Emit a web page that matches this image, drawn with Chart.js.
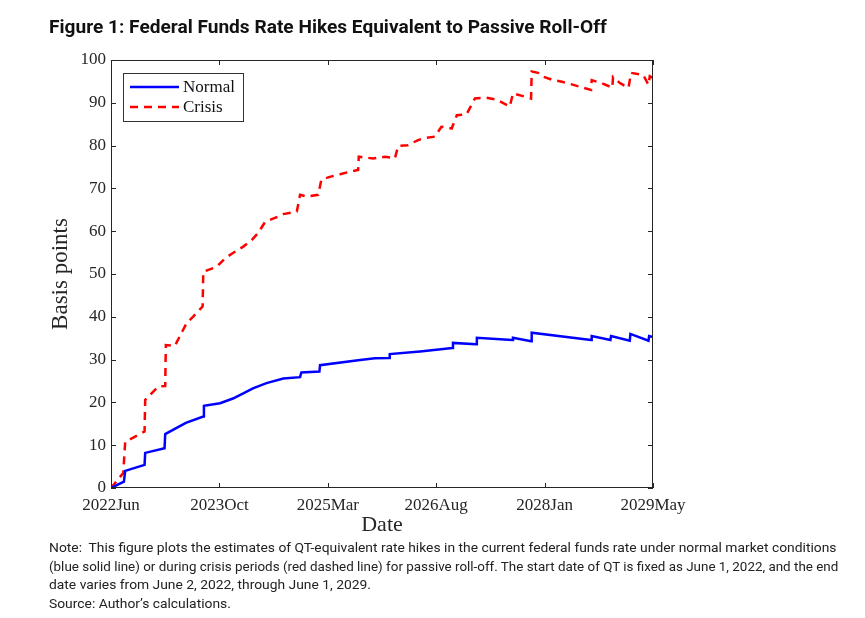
<!DOCTYPE html>
<html>
<head>
<meta charset="utf-8">
<title>Figure 1</title>
<script src="https://cdn.jsdelivr.net/npm/chart.js@4.4.1/dist/chart.umd.min.js"></script>
<style>
  html, body { margin: 0; padding: 0; background: #fff; }
  #page { position: relative; width: 865px; height: 618px; overflow: hidden; }
  #chartBox { position: absolute; left: 0; top: 0; width: 865px; height: 545px; }
  #title {
    position: absolute; left: 49px; top: 16px;
    font: 700 18px Roboto, "Noto Sans", sans-serif; color: #111;
    white-space: nowrap; transform-origin: 0 0;
  }
  #note {
    position: absolute; left: 49px; top: 539px;
    font: 13px Roboto, "Noto Sans", sans-serif; line-height: 18.7px; color: #222;
    white-space: nowrap;
  }
  #note span { display: inline-block; transform-origin: 0 0; }
</style>
</head>
<body>
<div id="page">
  <div id="chartBox"><canvas id="qtChart"></canvas></div>
  <div id="title">Figure 1: Federal Funds Rate Hikes Equivalent to Passive Roll-Off</div>
  <div id="note">
    <div><span data-w="787">Note:&nbsp; This figure plots the estimates of QT-equivalent rate hikes in the current federal funds rate under normal market conditions</span></div>
    <div><span data-w="789">(blue solid line) or during crisis periods (red dashed line) for passive roll-off. The start date of QT is fixed as June 1, 2022, and the end</span></div>
    <div><span>date varies from June 2, 2022, through June 1, 2029.</span></div>
    <div><span>Source: Author’s calculations.</span></div>
  </div>
</div>
<script>
// x values are months since June 2022
const tickMonths = [0, 16.8, 33.6, 50.4, 67.2, 84];
const tickLabels = ["2022Jun", "2023Oct", "2025Mar", "2026Aug", "2028Jan", "2029May"];

const normalX = [0, 2.0, 2.2, 5.2, 5.3, 8.3, 8.4, 11.6, 14.3, 14.4,
  16.9, 18.9, 20.5, 22.0, 24.1, 26.7, 29.3, 29.5, 32.3, 32.4,
  38.6, 40.9, 43.1, 43.2, 47.9, 52.9, 53.0, 56.6, 56.7, 62.2,
  62.3, 65.1, 65.2, 74.4, 74.5, 77.4, 77.5, 80.4, 80.5, 83.3,
  83.4, 84];
const normalY = [0, 1.5, 4.0, 5.4, 8.2, 9.3, 12.6, 15.2, 16.7, 19.2,
  19.8, 20.9, 22.1, 23.3, 24.5, 25.6, 25.9, 27.0, 27.2, 28.7,
  29.9, 30.3, 30.4, 31.3, 31.9, 32.7, 33.9, 33.6, 35.1, 34.6,
  35.1, 34.3, 36.3, 34.6, 35.5, 34.6, 35.5, 34.4, 36.0, 34.4,
  35.5, 35.3];

const crisisX = [0, 1.9, 2.2, 5.2, 5.3, 7.3, 8.4, 8.5, 9.9, 11.7,
  12.7, 14.2, 14.3, 16.4, 17.7, 18.9, 20.5, 21.8, 22.8, 23.9,
  25.4, 26.7, 28.8, 29.3, 30.3, 32.1, 32.6, 33.9, 35.5, 37.0,
  38.3, 38.4, 40.6, 42.5, 44.0, 44.5, 46.0, 47.6, 48.4, 50.2,
  51.2, 52.8, 53.6, 55.1, 56.4, 58.2, 59.8, 61.8, 62.3, 64.2,
  65.1, 65.2, 66.2, 67.0, 68.3, 69.9, 71.4, 73.0, 74.4, 74.5,
  76.0, 77.3, 77.7, 77.8, 78.9, 80.2, 80.6, 82.5, 83.3, 83.5,
  84];
const crisisY = [0, 3.5, 10.8, 13.2, 20.6, 23.7, 23.8, 33.4, 33.2, 38.5,
  40.0, 42.4, 50.5, 51.7, 53.7, 54.9, 56.4, 57.9, 59.6, 62.2,
  63.1, 64.0, 64.6, 68.5, 68.1, 68.5, 72.0, 72.7, 73.3, 73.9,
  74.3, 77.4, 77.0, 77.4, 77.0, 79.9, 80.1, 81.3, 81.7, 82.1,
  84.4, 84.0, 87.1, 87.3, 91.0, 91.2, 90.7, 89.1, 92.2, 91.4,
  91.0, 97.3, 97.0, 96.1, 95.4, 94.9, 94.3, 93.6, 93.0, 95.3,
  94.6, 93.8, 93.5, 96.0, 94.6, 93.5, 97.0, 96.5, 94.2, 96.2,
  95.8];

const serif = "'Liberation Serif', 'Times New Roman', serif";
const axisColor = "#262626";

const toPoints = (xs, ys) => xs.map((x, i) => ({ x, y: ys[i] }));

// MATLAB-like box, inward ticks and boxed legend inside the axes
const boxPlugin = {
  id: "matlabBox",
  afterDatasetsDraw(chart) {
    const { ctx, chartArea: a, scales } = chart;
    ctx.save();
    ctx.strokeStyle = axisColor;
    ctx.lineWidth = 1;
    ctx.strokeRect(a.left + 0.5, a.top + 0.5, a.right - a.left - 1, a.bottom - a.top - 1);

    ctx.beginPath();
    scales.x.ticks.forEach((t) => {
      const px = Math.round(scales.x.getPixelForValue(t.value)) + 0.5;
      ctx.moveTo(px, a.bottom); ctx.lineTo(px, a.bottom - 5);
      ctx.moveTo(px, a.top); ctx.lineTo(px, a.top + 5);
    });
    scales.y.ticks.forEach((t) => {
      const py = Math.round(scales.y.getPixelForValue(t.value)) + 0.5;
      ctx.moveTo(a.left, py); ctx.lineTo(a.left + 5, py);
      ctx.moveTo(a.right, py); ctx.lineTo(a.right - 5, py);
    });
    ctx.stroke();

    // legend
    const lx = a.left + 12, ly = a.top + 13, lw = 120, lh = 48;
    ctx.fillStyle = "#fff";
    ctx.fillRect(lx, ly, lw, lh);
    ctx.strokeStyle = "#333";
    ctx.strokeRect(lx + 0.5, ly + 0.5, lw, lh);
    ctx.font = "17px " + serif;
    ctx.textBaseline = "middle";
    ctx.textAlign = "left";
    chart.data.datasets.forEach((ds, i) => {
      const y = ly + 14 + i * 20;
      ctx.beginPath();
      ctx.strokeStyle = ds.borderColor;
      ctx.lineWidth = ds.borderWidth;
      ctx.setLineDash(ds.borderDash || []);
      ctx.moveTo(lx + 7, y);
      ctx.lineTo(lx + 56, y);
      ctx.stroke();
      ctx.setLineDash([]);
      ctx.fillStyle = "#111";
      ctx.fillText(ds.label, lx + 60, y + 1);
    });
    ctx.restore();
  }
};

new Chart(document.getElementById("qtChart"), {
  type: "line",
  data: {
    datasets: [{
      label: "Normal",
      data: toPoints(normalX, normalY),
      borderColor: "#0000ff",
      borderWidth: 2.5,
      pointRadius: 0,
      tension: 0,
      fill: false
    }, {
      label: "Crisis",
      data: toPoints(crisisX, crisisY),
      borderColor: "#ff0000",
      borderWidth: 2.5,
      borderDash: [8, 6],
      pointRadius: 0,
      tension: 0,
      fill: false
    }]
  },
  options: {
    responsive: true,
    maintainAspectRatio: false,
    animation: false,
    layout: {
      padding: { left: 40, top: 60, right: 212, bottom: 2 }
    },
    plugins: {
      legend: { display: false },
      tooltip: { enabled: false }
    },
    scales: {
      x: {
        type: "linear",
        min: 0,
        max: 84,
        afterBuildTicks(scale) {
          scale.ticks = tickMonths.map((value) => ({ value }));
        },
        afterFit(scale) {
          scale.height = 55;
        },
        grid: { display: false, drawTicks: false },
        border: { display: false },
        ticks: {
          autoSkip: false,
          maxRotation: 0,
          padding: 7,
          color: axisColor,
          font: { family: serif, size: 17 },
          callback: (value, index) => tickLabels[index]
        },
        title: {
          display: true,
          text: "Date",
          color: axisColor,
          font: { family: serif, size: 22 },
          padding: { top: 0, bottom: 5 }
        }
      },
      y: {
        min: 0,
        max: 100,
        afterFit(scale) {
          scale.width = 71;
        },
        grid: { display: false, drawTicks: false },
        border: { display: false },
        ticks: {
          stepSize: 10,
          padding: 5,
          color: axisColor,
          font: { family: serif, size: 17 }
        },
        title: {
          display: true,
          text: "Basis points",
          color: axisColor,
          font: { family: serif, size: 23 },
          padding: { top: 7, bottom: 0 }
        }
      }
    }
  },
  plugins: [boxPlugin]
});

// squeeze the heading and the note lines to the widths of the original figure
const fitText = () => {
  const title = document.getElementById("title");
  title.style.transform = "scaleX(" + (558 / title.offsetWidth) + ")";
  const spans = Array.from(document.querySelectorAll("#note span"));
  const base = 787 / spans[0].offsetWidth;
  spans.forEach((s) => {
    const k = s.dataset.w ? Number(s.dataset.w) / s.offsetWidth : base;
    s.style.transform = "scaleX(" + k + ")";
  });
};
fitText();
if (document.fonts && document.fonts.ready) document.fonts.ready.then(fitText);
</script>
</body>
</html>
